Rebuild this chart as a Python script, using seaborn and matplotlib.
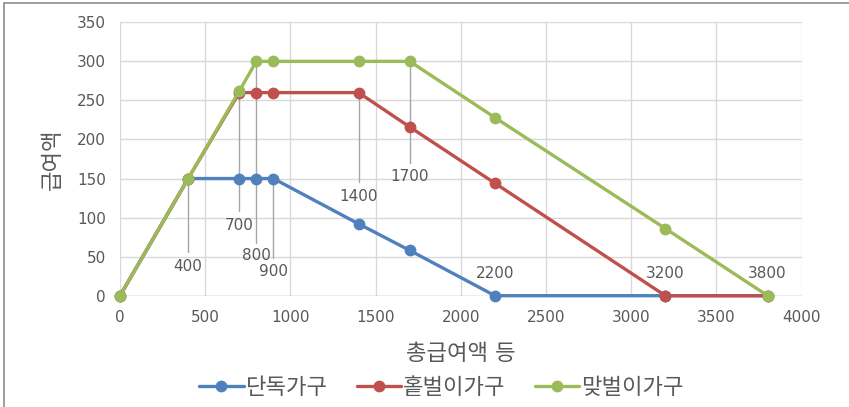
import numpy as np
import pandas as pd
import matplotlib
matplotlib.use('Agg')
import matplotlib.pyplot as plt
from matplotlib.lines import Line2D
from matplotlib.patches import Rectangle
import seaborn as sns

# data
income = [0, 400, 700, 800, 900, 1400, 1700, 2200, 3200, 3800]
single = [0, 150, 150, 150, 150, 92, 58, 0, 0, 0]
one_earner = [0, 150, 260, 260, 260, 260, 216, 144, 0, 0]
two_earner = [0, 150, 262, 300, 300, 300, 300, 228, 86, 0]
series_names = ['단독가구', '홑벌이가구', '맞벌이가구']
point_labels = ['400', '700', '800', '900', '1400', '1700', '2200', '3200', '3800']
label_x = [400, 700, 800, 900, 1400, 1700, 2200, 3200, 3800]

colors = ['#4F81BD', '#C0504D', '#9BBB59']
text_color = '#595959'

sns.set_theme(style='white')
plt.rcParams['font.family'] = ['DejaVu Sans', 'Noto Sans CJK KR']

df = pd.concat([
    pd.DataFrame({'x': income, 'y': vals, 'series': name})
    for name, vals in zip(series_names, [single, one_earner, two_earner])
])

fig = plt.figure(figsize=(8.49, 4.07), dpi=100)
ax = fig.add_axes([120 / 849, 1 - 295.7 / 407, 681.7 / 849, 273.4 / 407])

sns.lineplot(data=df, x='x', y='y', hue='series', palette=colors,
             hue_order=series_names, marker='o', markersize=8.5,
             markeredgewidth=0, linewidth=2.4, sort=False,
             legend=False, ax=ax, zorder=3, clip_on=False)

# leader lines + value labels (line top, line bottom, text y)
leaders = [(150, 56, 38), (262, 109, 90), (300, 68, 52), (150, 48, 31),
           (260, 145, 127), (300, 170, 152), (None, None, 29),
           (None, None, 29), (None, None, 29)]
for lx, txt, (top, bot, ty) in zip(label_x, point_labels, leaders):
    if top is not None:
        ax.plot([lx, lx], [top, bot], color='#a6a6a6', lw=1.0, zorder=2)
    ax.text(lx, ty, txt, ha='center', va='center', fontsize=11,
            color=text_color, zorder=4)

ax.set_xlim(0, 4000)
ax.set_ylim(0, 350)
ax.set_xticks(np.arange(0, 4001, 500))
ax.set_yticks(np.arange(0, 351, 50))
ax.grid(True, color='#d9d9d9', lw=1.0)
for s in ax.spines.values():
    s.set_visible(False)
ax.axhline(0, color='#bfbfbf', lw=1.0, zorder=1)
ax.tick_params(axis='both', length=0, labelsize=11, labelcolor=text_color)
ax.tick_params(axis='x', pad=10)
ax.tick_params(axis='y', pad=10)
ax.set_xlabel('총급여액 등', fontsize=16, color=text_color, labelpad=14)
ax.set_ylabel('급여액', fontsize=16, color=text_color, labelpad=10)

handles = [Line2D([0], [0], color=c, lw=2.4, marker='o', markersize=8.5,
                  markeredgewidth=0) for c in colors]
fig.legend(handles, series_names, loc='center', bbox_to_anchor=(0.52, 0.048),
           ncol=3, frameon=False, fontsize=16, labelcolor=text_color,
           handlelength=2.0, handletextpad=0.1, columnspacing=1.3)

# outer chart frame (partly cropped in the reference)
fig.patches.append(Rectangle((4 / 849, -0.1), 1.2, 1.1 - 3 / 407,
                             transform=fig.transFigure, fill=False,
                             edgecolor='#8c8c8c', lw=1.2))

fig.savefig('out.png', dpi=100)
